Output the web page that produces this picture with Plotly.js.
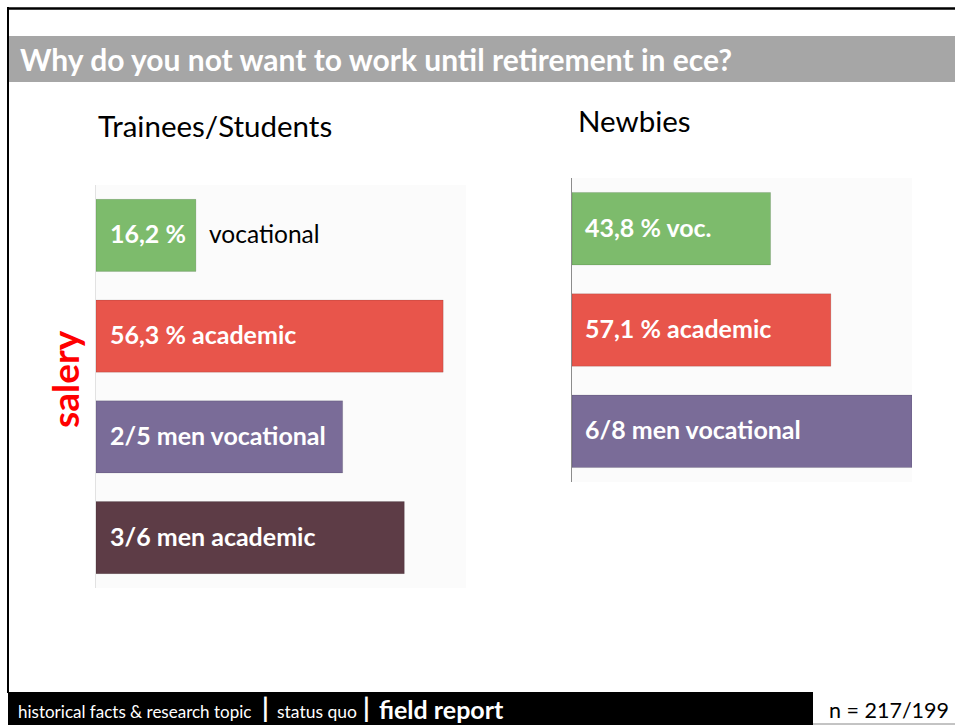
<!DOCTYPE html>
<html>
<head>
<meta charset="utf-8">
<script src="https://cdn.plot.ly/plotly-3.0.1.min.js"></script>
<style>
html,body{margin:0;padding:0;background:#fff;}
#chart{width:955px;height:725px;}
</style>
</head>
<body>
<div id="chart"></div>
<script>
// ---- data ----
var traineeCats = ["vocational", "academic", "men vocational", "men academic"];
var traineeValues = [16.2, 56.3, 40, 50];
var traineeLabels = ["16,2 %", "56,3 % academic", "2/5 men vocational", "3/6 men academic"];
var traineeOutside = ["vocational", "", "", ""];
var traineeColors = ["#7dbb6c", "#e8554b", "#7a6c98", "#5d3c46"];

var newbieCats = ["voc.", "academic", "men vocational"];
var newbieValues = [43.8, 57.1, 75];
var newbieLabels = ["43,8 % voc.", "57,1 % academic", "6/8 men vocational"];
var newbieColors = ["#7dbb6c", "#e8554b", "#7a6c98"];

var titleText = "Why do you not want to work until retirement in ece?";
var subLeft = "Trainees/Students";
var subRight = "Newbies";
var sideLabel = "salery";
var footerParts = ["historical facts &amp; research topic", "status quo", "field report"];
var nText = "n = 217/199";

var W = 955, H = 725;
function px(x){ return x / W; }
function py(y){ return 1 - y / H; }

var FONT = "Lato, 'Open Sans', sans-serif";

var traces = [
  {
    type: "bar", orientation: "h",
    x: traineeValues, y: traineeCats,
    xaxis: "x", yaxis: "y",
    marker: {color: traineeColors, line: {color: "rgba(0,0,0,0.12)", width: 1}},
    hoverinfo: "none", showlegend: false
  },
  {
    type: "bar", orientation: "h",
    x: newbieValues, y: newbieCats,
    xaxis: "x2", yaxis: "y2",
    marker: {color: newbieColors, line: {color: "rgba(0,0,0,0.12)", width: 1}},
    hoverinfo: "none", showlegend: false
  }
];

var annotations = [];
traineeCats.forEach(function(c, i){
  annotations.push({xref: "x", yref: "y", x: 0, y: c, text: "<b>" + traineeLabels[i] + "</b>",
    xanchor: "left", yanchor: "middle", xshift: 12, yshift: 2, showarrow: false,
    font: {family: FONT, size: 25, color: "#ffffff"}});
  if (traineeOutside[i]) {
    annotations.push({xref: "x", yref: "y", x: traineeValues[i], y: c, text: traineeOutside[i],
      xanchor: "left", yanchor: "middle", xshift: 11, yshift: 2, showarrow: false,
      font: {family: FONT, size: 24.5, color: "#000000"}});
  }
});
newbieCats.forEach(function(c, i){
  annotations.push({xref: "x2", yref: "y2", x: 0, y: c, text: "<b>" + newbieLabels[i] + "</b>",
    xanchor: "left", yanchor: "middle", xshift: 11, yshift: 2, showarrow: false,
    font: {family: FONT, size: 25, color: "#ffffff"}});
});
annotations.push(
  {xref: "paper", yref: "paper", x: px(18), y: py(59), text: "<b>" + titleText + "</b>",
   xanchor: "left", yanchor: "middle", showarrow: false,
   font: {family: FONT, size: 30, color: "#ffffff"}},
  {xref: "paper", yref: "paper", x: px(96), y: py(126), text: subLeft,
   xanchor: "left", yanchor: "middle", showarrow: false,
   font: {family: FONT, size: 29.5, color: "#000000"}},
  {xref: "paper", yref: "paper", x: px(576), y: py(121), text: subRight,
   xanchor: "left", yanchor: "middle", showarrow: false,
   font: {family: FONT, size: 29.5, color: "#000000"}},
  {xref: "paper", yref: "paper", x: px(64), y: py(379), text: "<b>" + sideLabel + "</b>",
   xanchor: "center", yanchor: "middle", showarrow: false, textangle: -90,
   font: {family: FONT, size: 37, color: "#ff0000"}},
  {xref: "paper", yref: "paper", x: px(16), y: py(711), text: footerParts[0],
   xanchor: "left", yanchor: "middle", showarrow: false,
   font: {family: FONT, size: 17, color: "#ffffff"}},
  {xref: "paper", yref: "paper", x: px(265), y: py(708), text: "<b>|</b>",
   xanchor: "center", yanchor: "middle", showarrow: false,
   font: {family: FONT, size: 26, color: "#ffffff"}},
  {xref: "paper", yref: "paper", x: px(275), y: py(711), text: footerParts[1],
   xanchor: "left", yanchor: "middle", showarrow: false,
   font: {family: FONT, size: 17.5, color: "#ffffff"}},
  {xref: "paper", yref: "paper", x: px(366), y: py(708), text: "<b>|</b>",
   xanchor: "center", yanchor: "middle", showarrow: false,
   font: {family: FONT, size: 26, color: "#ffffff"}},
  {xref: "paper", yref: "paper", x: px(377), y: py(709), text: "<b>" + footerParts[2] + "</b>",
   xanchor: "left", yanchor: "middle", showarrow: false,
   font: {family: FONT, size: 25, color: "#ffffff"}},
  {xref: "paper", yref: "paper", x: px(951), y: py(710), text: nText,
   xanchor: "right", yanchor: "middle", showarrow: false,
   font: {family: FONT, size: 21.5, color: "#000000"}}
);

var shapes = [
  // outer frame top & left
  {type: "line", xref: "paper", yref: "paper", x0: px(7), x1: 1, y0: py(8.5), y1: py(8.5), line: {color: "#000", width: 2.5}},
  {type: "line", xref: "paper", yref: "paper", x0: px(8), x1: px(8), y0: py(7), y1: py(693), line: {color: "#000", width: 2}},
  // gray title bar
  {type: "rect", xref: "paper", yref: "paper", x0: px(8), x1: 1, y0: py(82), y1: py(36), fillcolor: "#a6a6a6", line: {width: 0}, layer: "below"},
  // footer black bar
  {type: "rect", xref: "paper", yref: "paper", x0: px(8), x1: px(813), y0: 0, y1: py(692), fillcolor: "#000000", line: {width: 0}},
  // footer thin bottom line
  {type: "line", xref: "paper", yref: "paper", x0: px(813), x1: 1, y0: py(724), y1: py(724), line: {color: "#888", width: 1}}
];

var layout = {
  width: W, height: H,
  margin: {l: 0, r: 0, t: 0, b: 0},
  paper_bgcolor: "#ffffff",
  plot_bgcolor: "#fbfbfb",
  bargap: 0.285,
  xaxis: {domain: [px(96), px(466)], range: [0, 60], visible: false, fixedrange: true},
  yaxis: {domain: [py(588), py(185)], autorange: "reversed", showticklabels: false, ticks: "",
          showgrid: false, zeroline: false, showline: true, linecolor: "#e2e2e2", linewidth: 1, anchor: "x", fixedrange: true},
  xaxis2: {domain: [px(572), px(912)], range: [0, 75], visible: false, fixedrange: true},
  yaxis2: {domain: [py(482), py(178)], autorange: "reversed", showticklabels: false, ticks: "",
           showgrid: false, zeroline: false, showline: true, linecolor: "#8c8c8c", linewidth: 1.5, anchor: "x2", fixedrange: true},
  annotations: annotations,
  shapes: shapes,
  font: {family: FONT}
};

Plotly.newPlot("chart", traces, layout, {displayModeBar: false, staticPlot: true});
</script>
</body>
</html>
